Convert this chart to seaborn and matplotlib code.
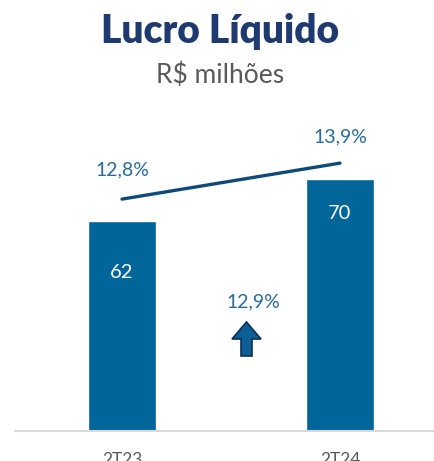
import matplotlib

matplotlib.use("Agg")

import matplotlib.pyplot as plt
import numpy as np
import pandas as pd
import seaborn as sns
from matplotlib.patches import Polygon

# data
periods = ["2T23", "2T24"]
lucro = [62, 70]
margem = [12.8, 13.9]
margem_labels = ["12,8%", "13,9%"]
crescimento_label = "12,9%"

BAR = "#00669a"
LINE = "#0d4a78"
TITLE = "#1f3a70"
PCT = "#2a6a9e"
GRAY = "#595959"

sns.set_style("white")
plt.rcParams["font.family"] = ["Lato", "DejaVu Sans"]

W, H = 435, 461
fig = plt.figure(figsize=(W / 100, H / 100), dpi=100)


def px_box(left, top, right, bottom):
    return [left / W, 1 - bottom / H, (right - left) / W, (bottom - top) / H]


ax = fig.add_axes(px_box(15, 100, 435, 431))
df = pd.DataFrame({"periodo": periods, "lucro": lucro})
sns.barplot(data=df, x="periodo", y="lucro", color=BAR, width=0.312,
            saturation=1, ax=ax)
ax.set_xlim(-0.491, 1.436)
ax.set_ylim(22, 85)
ax.set_xlabel("")
ax.set_ylabel("")
ax.set_yticks([])
ax.tick_params(axis="x", length=0, labelsize=12.5, labelcolor=GRAY, pad=15)
for side in ["top", "right", "left"]:
    ax.spines[side].set_visible(False)
ax.spines["bottom"].set_color("#d9d9d9")
ax.spines["bottom"].set_linewidth(1.5)

# value labels inside the bars
value_offsets = [-52, -35]
for i, v in enumerate(lucro):
    ax.annotate(str(v), (i, v), xytext=(0, value_offsets[i] * 0.72),
                textcoords="offset points", ha="center", va="center",
                color="white", fontsize=14.5)

# margin line on a twin axis
ax2 = ax.twinx()
sns.lineplot(x=[0, 1], y=margem, color=LINE, linewidth=2.4, ax=ax2)
ax2.set_ylim(5.71, 15.83)
ax2.set_yticks([])
for side in ["top", "right", "left", "bottom"]:
    ax2.spines[side].set_visible(False)
label_offsets = [29, 26]
for i, m in enumerate(margem):
    ax2.annotate(margem_labels[i], (i, m), xytext=(0, label_offsets[i] * 0.72),
                 textcoords="offset points", ha="center", va="center",
                 color=PCT, fontsize=14)

# growth annotation
fig.text(253 / W, 1 - 302 / H, crescimento_label, ha="center", va="center",
         color=PCT, fontsize=14)
arrow_px = [(246.5, 322), (261, 339), (252, 339), (252, 356),
            (241, 356), (241, 339), (232, 339)]
arrow = Polygon([(x / W, 1 - y / H) for x, y in arrow_px], closed=True,
                transform=fig.transFigure, facecolor="#0b5f94",
                edgecolor="#0d2f57", linewidth=1.2)
fig.add_artist(arrow)

# titles
fig.text(220 / W, 1 - 31 / H, "Lucro Líquido", ha="center", va="center",
         color=TITLE, fontsize=28, fontweight="heavy")
fig.text(220 / W, 1 - 75 / H, "R$ milhões", ha="center", va="center",
         color=GRAY, fontsize=19)

fig.savefig("out.png", dpi=100)
